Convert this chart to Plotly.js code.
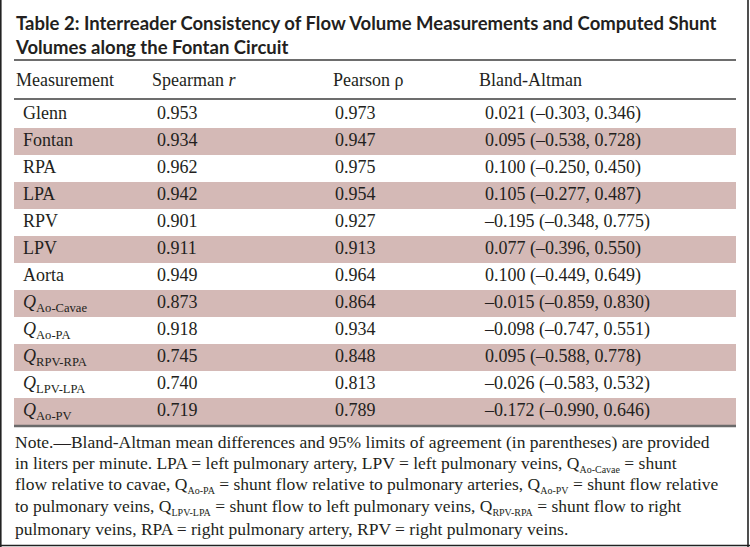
<!DOCTYPE html>
<html>
<head>
<meta charset="utf-8">
<script src="https://cdn.plot.ly/plotly-3.0.1.min.js"></script>
<style>body{margin:0;background:#fff}</style>
</head>
<body>
<div id="table2" style="width:750px;height:547px"></div>
<script>
/*===== Table data =====*/
const headers = ['Measurement', 'Spearman <i>r</i>', 'Pearson ρ', 'Bland-Altman'];
const measurements = ['Glenn', 'Fontan', 'RPA', 'LPA', 'RPV', 'LPV', 'Aorta',
  '<i>Q</i><sub>Ao-Cavae</sub>', '<i>Q</i><sub>Ao-PA</sub>', '<i>Q</i><sub>RPV-RPA</sub>',
  '<i>Q</i><sub>LPV-LPA</sub>', '<i>Q</i><sub>Ao-PV</sub>'];
const spearman = ['0.953', '0.934', '0.962', '0.942', '0.901', '0.911', '0.949',
  '0.873', '0.918', '0.745', '0.740', '0.719'];
const pearson = ['0.973', '0.947', '0.975', '0.954', '0.927', '0.913', '0.964',
  '0.864', '0.934', '0.848', '0.813', '0.789'];
const blandAltman = ['0.021 (–0.303, 0.346)', '0.095 (–0.538, 0.728)', '0.100 (–0.250, 0.450)',
  '0.105 (–0.277, 0.487)', '–0.195 (–0.348, 0.775)', '0.077 (–0.396, 0.550)',
  '0.100 (–0.449, 0.649)', '–0.015 (–0.859, 0.830)', '–0.098 (–0.747, 0.551)',
  '0.095 (–0.588, 0.778)', '–0.026 (–0.583, 0.532)', '–0.172 (–0.990, 0.646)'];

const titleText = 'Table 2: Interreader Consistency of Flow Volume Measurements and Computed Shunt<br>Volumes along the Fontan Circuit';
// small subscripts like the journal's note style
const q = s => 'Q<sub><span style="font-size:10px">' + s + '</span></sub>';
const noteLines = [
  'Note.—Bland-Altman mean differences and 95% limits of agreement (in parentheses) are provided',
  'in liters per minute. LPA = left pulmonary artery, LPV = left pulmonary veins, ' + q('Ao-Cavae') + ' = shunt',
  'flow relative to cavae, ' + q('Ao-PA') + ' = shunt flow relative to pulmonary arteries, ' + q('Ao-PV') + ' = shunt flow relative',
  'to pulmonary veins, ' + q('LPV-LPA') + ' = shunt flow to left pulmonary veins, ' + q('RPV-RPA') + ' = shunt flow to right',
  'pulmonary veins, RPA = right pulmonary artery, RPV = right pulmonary veins.'
];

/*===== Layout helpers =====*/
const W = 750, H = 547;
const px = v => v / W;           // pixel -> paper x
const py = v => 1 - v / H;       // pixel -> paper y
const bodyTop = 101, bodyBottom = 425;
const colX = [23, 157, 335, 485];
const headX = [14, 150, 331, 477];
const ink = '#231f20';
const serif = 'Liberation Serif';
const shade = '#d4b9b6';
const fs = 18;

const rows = measurements.map((m, i) => i);
const shaded = rows.filter(i => i % 2 === 1);

function textCol(x, vals) {
  return {
    x: vals.map(() => x),
    y: rows,
    text: vals,
    mode: 'text',
    type: 'scatter',
    textposition: 'middle right',
    textfont: {family: serif, size: fs, color: ink},
    hoverinfo: 'skip',
    cliponaxis: false,
    showlegend: false
  };
}

const bands = {
  type: 'bar',
  orientation: 'h',
  y: shaded,
  x: shaded.map(() => 722),
  base: 14,
  width: 1,
  marker: {color: shade, line: {width: 0}},
  hoverinfo: 'skip',
  showlegend: false
};

const data = [bands,
  textCol(colX[0], measurements),
  textCol(colX[1], spearman),
  textCol(colX[2], pearson),
  textCol(colX[3], blandAltman)];

const hLine = (y, w, c) => ({type: 'line', xref: 'paper', yref: 'paper',
  x0: px(14), x1: px(736), y0: py(y), y1: py(y), line: {color: c, width: w}});

const layout = {
  width: W, height: H,
  margin: {l: 0, r: 0, t: 0, b: 0},
  paper_bgcolor: '#fff',
  plot_bgcolor: 'rgba(0,0,0,0)',
  showlegend: false,
  xaxis: {range: [0, W], visible: false, fixedrange: true},
  yaxis: {range: [11.5, -0.5], visible: false, fixedrange: true,
    domain: [py(bodyBottom), py(bodyTop)]},
  bargap: 0,
  shapes: [
    hLine(60, 1.5, '#3c3c3c'),
    hLine(99, 1.5, '#3c3c3c'),
    hLine(426, 2.5, '#6a6a6a'),
    {type: 'line', xref: 'paper', yref: 'paper', x0: px(0.8), x1: px(0.8), y0: 0, y1: 1, line: {color: '#222', width: 1.6}},
    {type: 'line', xref: 'paper', yref: 'paper', x0: px(748), x1: px(748), y0: 0, y1: 1, line: {color: '#222', width: 1.6}},
    {type: 'line', xref: 'paper', yref: 'paper', x0: 0, x1: 1, y0: py(545.5), y1: py(545.5), line: {color: '#222', width: 1.6}}
  ],
  annotations: [
    {xref: 'paper', yref: 'paper', x: px(13), y: py(10), xanchor: 'left', yanchor: 'top',
      align: 'left', showarrow: false, text: '<b>' + titleText + '</b>',
      font: {family: 'Lato', size: 18.5, color: ink}}
  ].concat(headers.map((h, i) => ({
    xref: 'paper', yref: 'paper', x: px(headX[i]), y: py(80), xanchor: 'left', yanchor: 'middle',
    showarrow: false, text: h, font: {family: serif, size: fs, color: ink}
  }))).concat(noteLines.map((t, i) => ({
    xref: 'paper', yref: 'paper', x: px(13), y: py(442 + i * 21.7), xanchor: 'left', yanchor: 'middle',
    align: 'left', showarrow: false, text: t, font: {family: serif, size: 17.5, color: ink}
  })))
};

Plotly.newPlot('table2', data, layout, {staticPlot: true});
</script>
</body>
</html>
